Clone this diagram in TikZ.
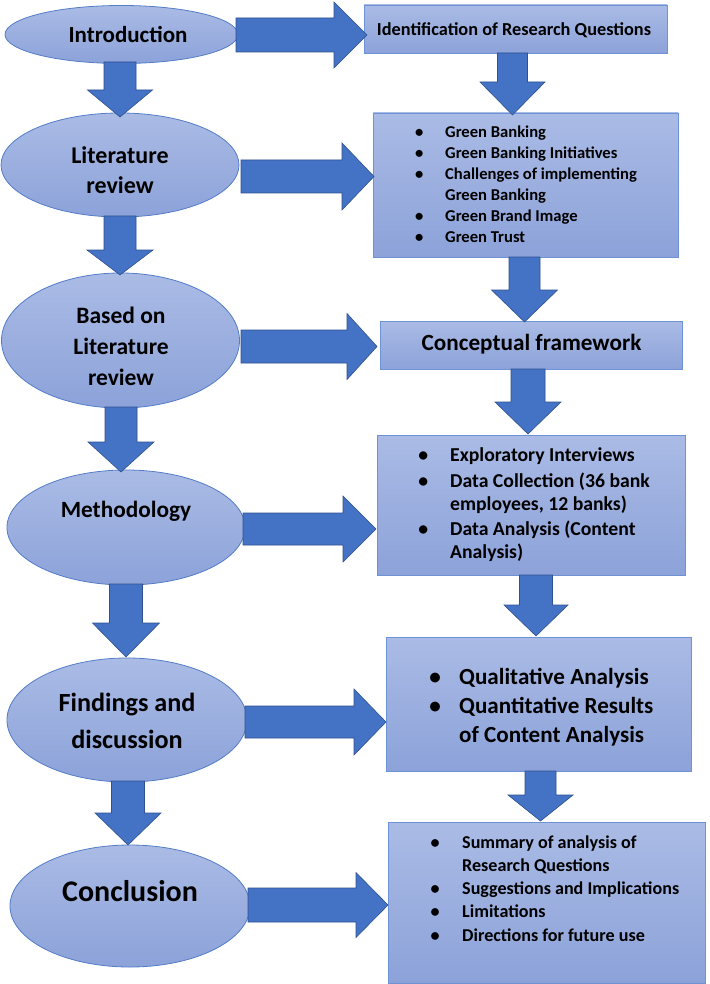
\documentclass[tikz,border=0pt]{standalone}
\usepackage{fontspec}
\setmainfont{Carlito}
\usetikzlibrary{shapes.geometric,calc}
\definecolor{ellTop}{RGB}{170,187,229}
\definecolor{ellBot}{RGB}{140,162,217}
\definecolor{ellLine}{RGB}{84,125,200}
\definecolor{boxLine}{RGB}{110,146,214}
\definecolor{arrFill}{RGB}{68,114,196}
\definecolor{arrLine}{RGB}{47,82,143}
\newcommand\fs[2]{\fontsize{#1}{#2}\selectfont\bfseries}
\newcommand\bul[1]{\llap{\makebox[0pt]{•}\hspace{#1}}}
% horizontal block arrow: start, tip, shaft half width, head half width, head length
\newcommand\hblock[5]{%
  \filldraw[arrowstyle] ($(#1)+(0,-#3)$) -- ($(#2)+(-#5,-#3)$) -- ($(#2)+(-#5,-#4)$) -- (#2)
    -- ($(#2)+(-#5,#4)$) -- ($(#2)+(-#5,#3)$) -- ($(#1)+(0,#3)$) -- cycle;}
% vertical (downward) block arrow
\newcommand\vblock[5]{%
  \filldraw[arrowstyle] ($(#1)+(-#3,0)$) -- ($(#2)+(-#3,-#5)$) -- ($(#2)+(-#4,-#5)$) -- (#2)
    -- ($(#2)+(#4,-#5)$) -- ($(#2)+(#3,-#5)$) -- ($(#1)+(#3,0)$) -- cycle;}
\begin{document}
\begin{tikzpicture}[x=1pt,y=-1pt,
  ell/.style={ellipse, draw=ellLine, line width=0.8pt, top color=ellTop, bottom color=ellBot, inner sep=0pt},
  rbox/.style={rectangle, draw=boxLine, line width=0.8pt, top color=ellTop, bottom color=ellBot, inner sep=0pt},
  lbl/.style={align=center, inner sep=0pt, text=black},
  lst/.style={align=left, inner sep=0pt, anchor=base west, text=black},
  arrowstyle/.style={fill=arrFill, draw=arrLine, line width=0.6pt, line join=miter}]
\useasboundingbox (0,0) rectangle (709,984);
\fill[white] (0,0) rectangle (709,984);

% left ellipses
\node[ell, minimum width=233, minimum height=58] (e1) at (121.5,34.5) {};
\node[ell, minimum width=238, minimum height=104] (e2) at (120,165) {};
\node[ell, minimum width=238, minimum height=135] (e3) at (120.5,340.5) {};
\node[ell, minimum width=238, minimum height=115] (e4) at (126,527.5) {};
\node[ell, minimum width=240, minimum height=124] (e5) at (127,720) {};
\node[ell, minimum width=240, minimum height=122] (e6) at (130,906) {};

\node[lbl, font=\fs{23}{28}] (t1) at (128,35) {Introduction};
\node[lbl, font=\fs{24}{30}] (t2) at (120,170.5) {Literature\\review};
\node[lbl, font=\fs{23.5}{31}] (t3) at (121,346.5) {Based on\\Literature\\review};
\node[lbl, font=\fs{23.3}{28}] (t4) at (126,511) {Methodology};
\node[lbl, font=\fs{26.2}{37}] (t5) at (127,721) {Findings and\\discussion};
\node[lbl, font=\fs{30}{34}] (t6) at (130,891) {Conclusion};

% right boxes
\node[rbox, minimum width=303, minimum height=48] (b1) at (515.5,29) {};
\node[rbox, minimum width=305, minimum height=144] (b2) at (525.5,185) {};
\node[rbox, minimum width=302, minimum height=48] (b3) at (531,345) {};
\node[rbox, minimum width=308, minimum height=140] (b4) at (531,505) {};
\node[rbox, minimum width=305, minimum height=134] (b5) at (538.5,704) {};
\node[rbox, minimum width=317, minimum height=161] (b6) at (546.5,902.5) {};

\node[lbl, font=\fs{18.3}{22}] (r1) at (514,30) {Identification of Research Questions};
\node[lst, font=\fs{16.6}{21}] (r2) at (445,243) {\bul{26pt}Green Banking\\\bul{26pt}Green Banking Initiatives\\\bul{26pt}Challenges of implementing\\Green Banking\\\bul{26pt}Green Brand Image\\\bul{26pt}Green Trust};
\node[lbl, font=\fs{23.2}{28}] (r3) at (531.5,344) {Conceptual framework};
\node[lst, font=\fs{19.7}{23}] (r4) at (450,558) {\bul{27pt}Exploratory Interviews\\[3pt]\bul{27pt}Data Collection (36 bank\\employees, 12 banks)\\[2pt]\bul{27pt}Data Analysis (Content\\Analysis)};
\node[lst, font=\fs{23.1}{29}] (r5) at (459,742) {\bul{24pt}Qualitative Analysis\\\bul{24pt}Quantitative Results\\of Content Analysis};
\node[lst, font=\fs{18.1}{23.2}] (r6) at (462,941) {\bul{27pt}Summary of analysis of\\Research Questions\\\bul{27pt}Suggestions and Implications\\\bul{27pt}Limitations\\\bul{27pt}Directions for future use};

% arrow end points
\coordinate (h1s) at (236,35);   \coordinate (h1t) at (367,35);
\coordinate (h2s) at (241,176.5); \coordinate (h2t) at (374,176.5);
\coordinate (h3s) at (241,346.5); \coordinate (h3t) at (377,346.5);
\coordinate (h4s) at (243,529);  \coordinate (h4t) at (376,529);
\coordinate (h5s) at (245,722);  \coordinate (h5t) at (386,722);
\coordinate (h6s) at (248,905);  \coordinate (h6t) at (388,905);

\coordinate (a1s) at (120,62);   \coordinate (a1t) at (120,117);
\coordinate (a2s) at (120,216);  \coordinate (a2t) at (120,275);
\coordinate (a3s) at (121,407);  \coordinate (a3t) at (121,472);
\coordinate (a4s) at (126,584);  \coordinate (a4t) at (126,657);
\coordinate (a5s) at (128,781);  \coordinate (a5t) at (128,845);

\coordinate (v1s) at (512.5,53);  \coordinate (v1t) at (512.5,115);
\coordinate (v2s) at (524.5,257); \coordinate (v2t) at (524.5,322);
\coordinate (v3s) at (528,369);   \coordinate (v3t) at (528,434);
\coordinate (v4s) at (536,575);   \coordinate (v4t) at (536,636);
\coordinate (v5s) at (540.5,771); \coordinate (v5t) at (540.5,821);

\hblock{h1s}{h1t}{17}{33}{33}
\hblock{h2s}{h2t}{16.5}{33.5}{32}
\hblock{h3s}{h3t}{16.5}{33}{30}
\hblock{h4s}{h4t}{16}{33}{33}
\hblock{h5s}{h5t}{16}{33}{32}
\hblock{h6s}{h6t}{17}{32.5}{32}

\vblock{a1s}{a1t}{16}{32.5}{27}
\vblock{a2s}{a2t}{16}{33}{25}
\vblock{a3s}{a3t}{16}{33}{30}
\vblock{a4s}{a4t}{16.5}{33.5}{34}
\vblock{a5s}{a5t}{16.5}{33}{32}

\vblock{v1s}{v1t}{15}{32.5}{33}
\vblock{v2s}{v2t}{15.5}{33}{32}
\vblock{v3s}{v3t}{17}{33}{32}
\vblock{v4s}{v4t}{16.5}{32}{31}
\vblock{v5s}{v5t}{15.5}{32.5}{26}
\end{tikzpicture}
\end{document}
